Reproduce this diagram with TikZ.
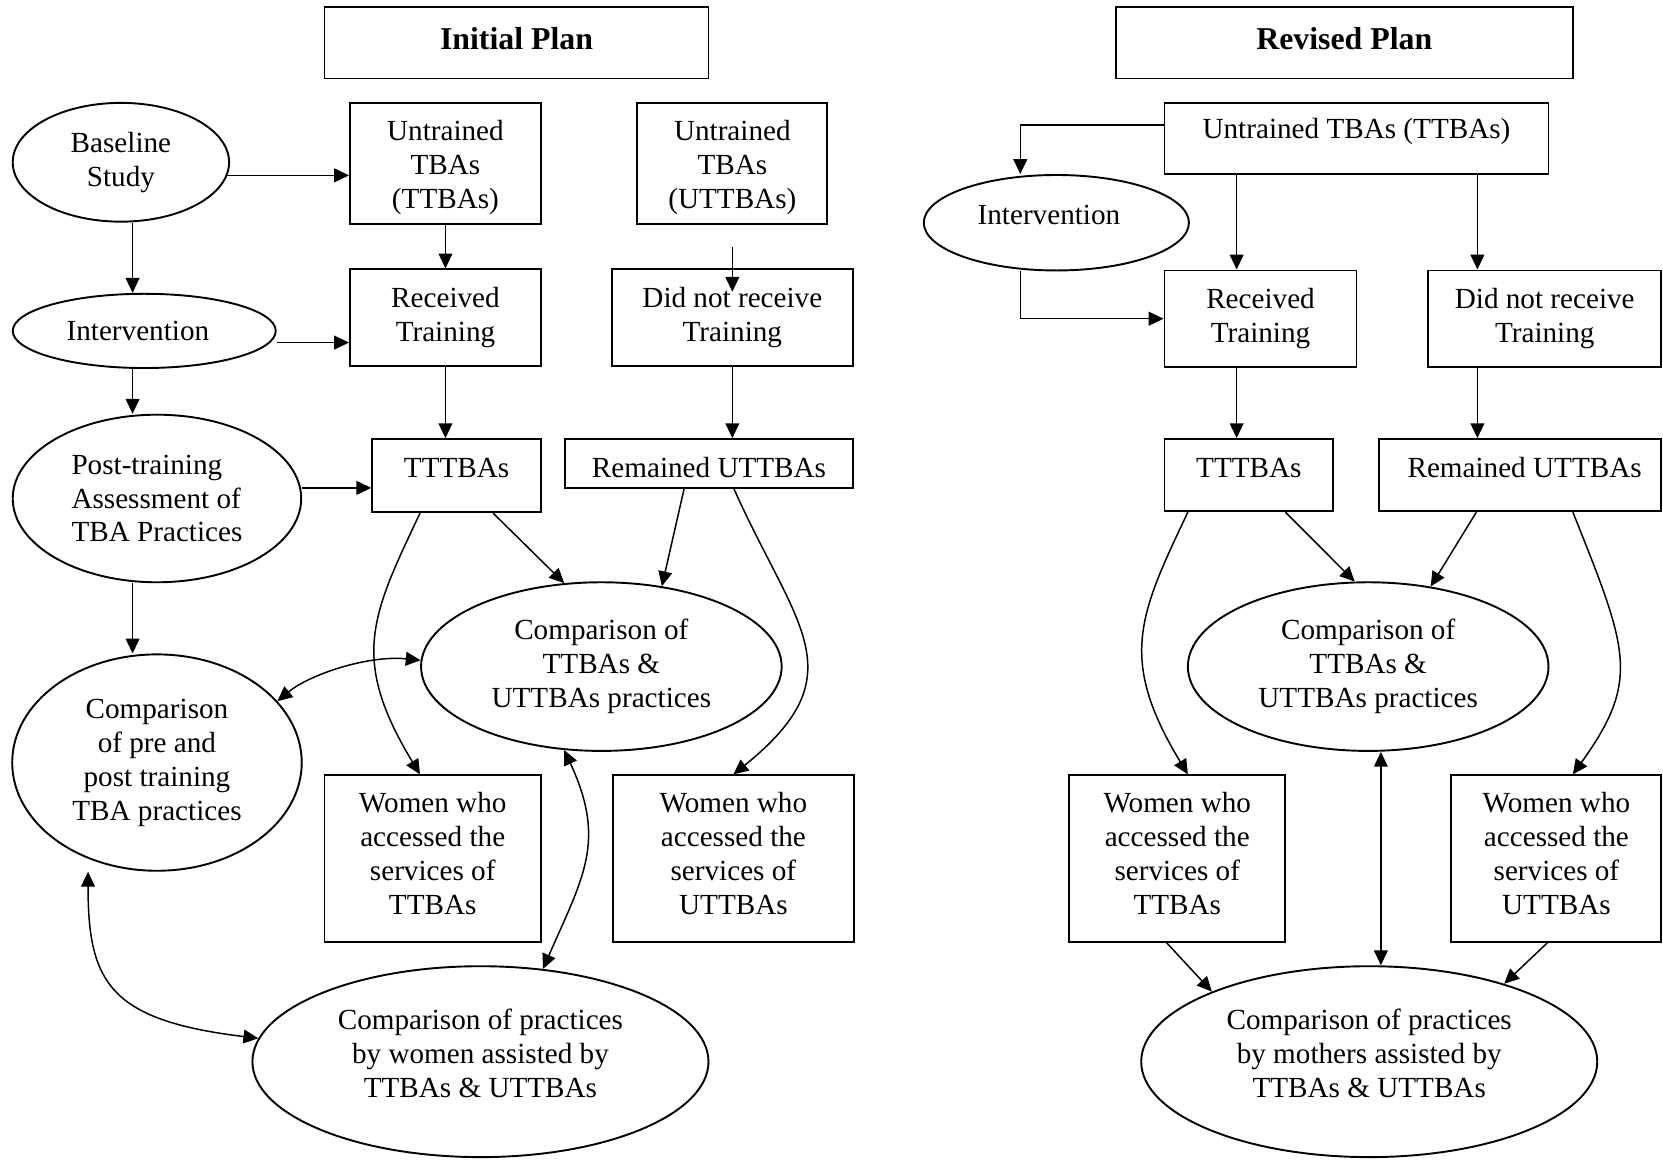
\documentclass[tikz,border=0pt]{standalone}
\usepackage{fontspec}
\setmainfont{Liberation Serif}
\usetikzlibrary{shapes.geometric,arrows.meta}
\begin{document}
\begin{tikzpicture}[x=0.5pt,y=-0.5pt,
  every node/.style={font=\fontsize{13.75pt}{16pt}\selectfont, align=center, inner sep=0pt},
  tbox/.style={draw, line width=0.9pt, rectangle},
  tell/.style={draw, line width=0.9pt, ellipse},
  plantitle/.style={tbox},
  txt/.style n args={3}{label={[xshift=#1,yshift=#2]center:{#3}}},
  tarr/.style={line width=0.7pt, -{Triangle[length=7pt,width=6.5pt]}},
  tdarr/.style={line width=0.7pt, {Triangle[length=7pt,width=6.5pt]}-{Triangle[length=7pt,width=6.5pt]}}]
\useasboundingbox (0,0) rectangle (1568,1093);

% ---------------- Initial plan ----------------
\node[plantitle, minimum width=181pt, minimum height=33.5pt,
  txt={0pt}{2.25pt}{\fontsize{15pt}{18pt}\selectfont\bfseries Initial Plan}] (t1) at (487,40.5) {};
\node[tell, minimum width=102pt, minimum height=56pt] (bs) at (114,153) {Baseline\\Study};
\node[tbox, minimum width=90pt, minimum height=57pt,
  txt={0pt}{-2pt}{Untrained\\TBAs\\(TTBAs)}] (u1) at (420,154) {};
\node[tbox, minimum width=89.5pt, minimum height=57pt,
  txt={0pt}{-2pt}{Untrained\\TBAs\\(UTTBAs)}] (u2) at (690.5,154) {};
\node[tell, minimum width=124pt, minimum height=35pt,
  txt={-3pt}{0pt}{Intervention}] (iv) at (136,312) {};
\node[tbox, minimum width=90pt, minimum height=45.5pt] (rt) at (420,299.5) {Received\\Training};
\node[tbox, minimum width=113.5pt, minimum height=45.5pt] (dn) at (690.5,299.5) {Did not receive\\Training};
\node[tell, minimum width=136pt, minimum height=79pt, align=left] (pt) at (148,470) {Post-training\\Assessment of\\TBA Practices};
\node[tbox, minimum width=79.5pt, minimum height=34.5pt,
  txt={0pt}{3.5pt}{TTTBAs}] (tt) at (430.5,448.5) {};
\node[tbox, minimum width=135.5pt, minimum height=23pt,
  txt={0pt}{-2pt}{Remained UTTBAs}] (ru) at (668.5,437) {};
\node[tell, minimum width=136.5pt, minimum height=102pt] (cp) at (148,719) {Comparison\\of pre and\\post training\\TBA practices};
\node[tell, minimum width=170pt, minimum height=79.5pt] (ct) at (567,628.5) {Comparison of\\TTBAs \&\\UTTBAs practices};
\node[tbox, minimum width=102pt, minimum height=78.5pt,
  txt={0pt}{2.5pt}{Women who\\accessed the\\services of\\TTBAs}] (w1) at (408,809.5) {};
\node[tbox, minimum width=113.5pt, minimum height=78.5pt,
  txt={0pt}{2.5pt}{Women who\\accessed the\\services of\\UTTBAs}] (w2) at (691.5,809.5) {};
\node[tell, minimum width=215pt, minimum height=90pt,
  txt={0pt}{4pt}{Comparison of practices\\by women assisted by\\TTBAs \& UTTBAs}] (cw) at (453,1001) {};

\coordinate (c1) at (125,0);

\draw[tarr] (bs.-7) -- (bs.-7 -| u1.west);
\draw[tarr] (u1.south) -- (rt.north);
\draw[tarr] ([yshift=-10.5pt]u2.south) -- ([yshift=-11pt]dn.north);
\draw[tarr] (bs.south -| c1) -- (iv.north -| c1);
\draw[tarr] ([yshift=-5.5pt]iv.east) -- ([yshift=-5.5pt]iv.east -| rt.west);
\draw[tarr] (iv.south -| c1) -- (pt.north -| c1);
\draw[tarr] (rt.south) -- (rt.south |- tt.north);
\draw[tarr] (dn.south) -- (dn.south |- ru.north);
\draw[tarr] ([yshift=5pt]pt.east) -- ([yshift=5pt]pt.east -| tt.west);
\draw[tarr] (pt.south -| c1) -- (cp.north -| c1);
\draw[tarr] ([xshift=17.25pt]tt.south) -- (ct.114);
\draw[tarr] ([xshift=-11.75pt]ru.south) -- (ct.53);
\draw[tarr] ([xshift=-17.25pt]tt.south) .. controls +(-46,97) and +(-66,-109) .. ([xshift=-6pt]w1.north);
\draw[tarr] ([xshift=11.75pt]ru.south) .. controls +(58,130) and +(118,-95) .. (w2.north);
\draw[tdarr] (cp.27) .. controls +(30,-25) and +(-50,-5) .. (ct.178);
\draw[tdarr] (ct.246) .. controls +(40,86) and +(38,-87) .. (cw.56);
\draw[tdarr] ([xshift=-32.5pt]cp.south) .. controls +(0,105) and +(-140,-17) .. (cw.174);

% ---------------- Revised plan ----------------
\node[plantitle, minimum width=215.5pt, minimum height=33.5pt,
  txt={0pt}{2.25pt}{\fontsize{15pt}{18pt}\selectfont\bfseries Revised Plan}] (t2) at (1267.5,40.5) {};
\node[tbox, minimum width=181pt, minimum height=33.5pt,
  txt={0pt}{3.5pt}{Untrained TBAs (TTBAs)}] (u3) at (1279,130.5) {};
\node[tell, minimum width=125pt, minimum height=45pt,
  txt={-3.5pt}{3.5pt}{Intervention}] (iv2) at (996,210) {};
\node[tbox, minimum width=90.5pt, minimum height=45.5pt] (rt2) at (1188.5,300.5) {Received\\Training};
\node[tbox, minimum width=110pt, minimum height=45.5pt] (dn2) at (1456.5,300.5) {Did not receive\\Training};
\node[tbox, minimum width=79.5pt, minimum height=34pt,
  txt={0pt}{3.5pt}{TTTBAs}] (tt2) at (1177.5,448) {};
\node[tbox, minimum width=133pt, minimum height=34pt,
  txt={2pt}{3.5pt}{Remained UTTBAs}] (ru2) at (1433.5,448) {};
\node[tell, minimum width=170pt, minimum height=79.5pt] (ct2) at (1290,628.5) {Comparison of\\TTBAs \&\\UTTBAs practices};
\node[tbox, minimum width=102pt, minimum height=78.5pt,
  txt={0pt}{2.5pt}{Women who\\accessed the\\services of\\TTBAs}] (w3) at (1110,809.5) {};
\node[tbox, minimum width=99pt, minimum height=78.5pt,
  txt={0pt}{2.5pt}{Women who\\accessed the\\services of\\UTTBAs}] (w4) at (1467.5,809.5) {};
\node[tell, minimum width=215pt, minimum height=90pt,
  txt={0pt}{4pt}{Comparison of practices\\by mothers assisted by\\TTBAs \& UTTBAs}] (cm2) at (1291,1001) {};

\coordinate (c2) at (962,0);
\coordinate (c3) at (1166,0);
\coordinate (c4) at (1393,0);
\coordinate (c5) at (1302,0);

\draw[tarr] ([yshift=6.25pt]u3.west) -| (iv2.north -| c2);
\draw[tarr] (iv2.south -| c2) |- (rt2.west);
\draw[tarr] (u3.south -| c3) -- (rt2.north -| c3);
\draw[tarr] (u3.south -| c4) -- (dn2.north -| c4);
\draw[tarr] (rt2.south -| c3) -- (tt2.north -| c3);
\draw[tarr] (dn2.south -| c4) -- (ru2.north -| c4);
\draw[tarr] ([xshift=17.25pt]tt2.south) -- (ct2.99);
\draw[tarr] ([xshift=-20.75pt]ru2.south) -- (ct2.52);
\draw[tarr] ([xshift=-28.75pt]tt2.south) .. controls +(-46,97) and +(-66,-109) .. ([xshift=5pt]w3.north);
\draw[tarr] ([xshift=24.75pt]ru2.south) .. controls +(52,130) and +(64,-89) .. ([xshift=7.75pt]w4.north);
\draw[tdarr] (ct2.south -| c5) -- (cm2.north -| c5);
\draw[tarr] ([xshift=-5pt]w3.south) -- (cm2.156);
\draw[tarr] ([xshift=-4.25pt]w4.south) -- (cm2.30);
\end{tikzpicture}
\end{document}
